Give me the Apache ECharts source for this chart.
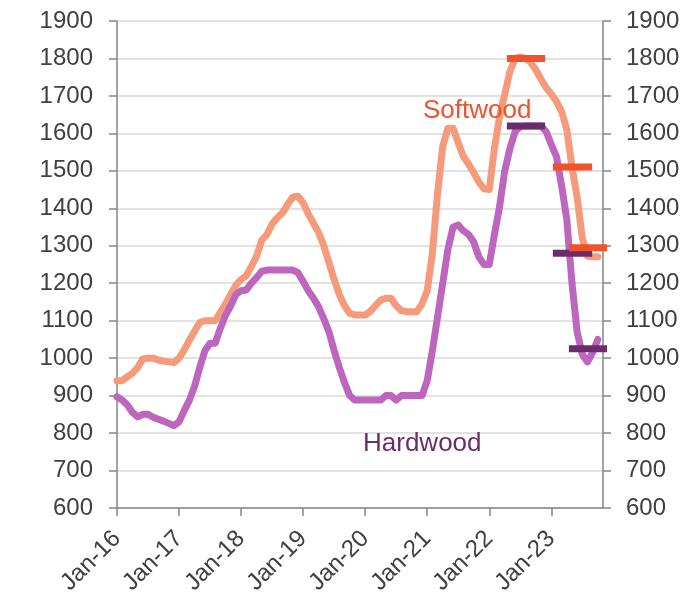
<!DOCTYPE html>
<html>
<head>
<meta charset="utf-8">
<script src="https://cdn.jsdelivr.net/npm/echarts@6/dist/echarts.min.js"></script>
<style>
html,body{margin:0;padding:0;background:#fff;}
#chart{width:687px;height:594px;}
</style>
</head>
<body>
<div id="chart"></div>
<script>
// Monthly index 0 = Jan-16 ... 93 = Oct-23
var yearTicks = ['Jan-16','Jan-17','Jan-18','Jan-19','Jan-20','Jan-21','Jan-22','Jan-23'];

var softwood = [
  940, 940, 950, 960, 975, 998, 1000, 1000, 995, 992, 990, 988,
  1000, 1022, 1048, 1072, 1095, 1100, 1100, 1100, 1122, 1145, 1170, 1195,
  1210, 1220, 1245, 1272, 1315, 1330, 1358, 1375, 1388, 1410, 1430, 1432,
  1415, 1385, 1360, 1335, 1300, 1255, 1210, 1170, 1140, 1120, 1115, 1115,
  1115, 1125, 1140, 1155, 1160, 1160, 1140, 1127, 1124, 1124, 1124, 1145,
  1180, 1280, 1440, 1565, 1614, 1614, 1575, 1538, 1518, 1495, 1470, 1452,
  1450, 1560, 1645, 1705, 1765, 1800, 1804, 1800, 1790, 1770, 1745, 1722,
  1705, 1685, 1658, 1610, 1510, 1430, 1320, 1272, 1271, 1271
];

var hardwood = [
  897, 888, 875, 855, 843, 850, 850, 842, 837, 832, 826, 820,
  830, 860, 888, 925, 975, 1020, 1040, 1040, 1080, 1115, 1140, 1170,
  1180, 1182, 1200, 1215, 1232, 1235, 1235, 1235, 1235, 1235, 1235, 1228,
  1205, 1180, 1160, 1137, 1105, 1070, 1020, 975, 935, 900, 888, 888,
  888, 888, 888, 888, 900, 900, 888, 900, 900, 900, 900, 900,
  940, 1020, 1110, 1200, 1290, 1350, 1355, 1340, 1330, 1310, 1270, 1250,
  1250, 1330, 1405, 1500, 1560, 1605, 1618, 1620, 1620, 1620, 1620, 1605,
  1570, 1538, 1460, 1370, 1200, 1070, 1010, 990, 1015, 1050
];

// Forecast bars (start/end in month index)
var forecastStart = [75.4, 84.3, 87.4];
var forecastEnd   = [82.8, 91.9, 94.8];
var softwoodForecast = [1800, 1510, 1295];
var hardwoodForecast = [1620, 1280, 1025];

function toPairs(arr){ return arr.map(function(v,i){ return [i, v]; }); }

var chart = echarts.init(document.getElementById('chart'), null, {renderer:'canvas'});

var axisLabelStyle = {fontFamily:'Liberation Sans, Arial, sans-serif', fontSize:24, color:'#404040'};

var series = [
  {type:'line', name:'Softwood', data:toPairs(softwood), showSymbol:false,
   lineStyle:{color:'#F59A7A', width:7, join:'round', cap:'round'}, z:2},
  {type:'line', name:'Hardwood', data:toPairs(hardwood), showSymbol:false,
   lineStyle:{color:'#BC66BE', width:7, join:'round', cap:'round'}, z:3}
];
forecastStart.forEach(function(s, k){
  series.push({type:'line', data:[[s, softwoodForecast[k]],[forecastEnd[k], softwoodForecast[k]]],
    showSymbol:false, clip:false, lineStyle:{color:'#F0522A', width:7, cap:'butt'}, z:5, silent:true});
  series.push({type:'line', data:[[s, hardwoodForecast[k]],[forecastEnd[k], hardwoodForecast[k]]],
    showSymbol:false, clip:false, lineStyle:{color:'#6B2C6E', width:7, cap:'butt'}, z:4, silent:true});
});

var yAxisCommon = {
  type:'value', min:600, max:1900, interval:100,
  axisLine:{show:true, lineStyle:{color:'#868686', width:1.5}},
  axisTick:{show:true, length:8, lineStyle:{color:'#868686', width:1.5}},
  splitLine:{show:true, lineStyle:{color:'#D9D9D9', width:1.5}}
};
function plain(v){ return String(v); }

chart.setOption({
  animation:false,
  backgroundColor:'#fff',
  grid:{left:117, right:84, top:21, bottom:86, containLabel:false, outerBoundsMode:'none'},
  xAxis:{
    type:'value', min:0, max:94, interval:12,
    axisLine:{show:true, onZero:false, lineStyle:{color:'#868686', width:1.5}},
    axisTick:{show:true, length:8, lineStyle:{color:'#868686', width:1.5}},
    splitLine:{show:false},
    axisLabel:Object.assign({rotate:45, margin:27, showMaxLabel:false,
      formatter:function(v){ return (v % 12 === 0) ? (yearTicks[v/12] || '') : ''; }}, axisLabelStyle)
  },
  yAxis:[
    Object.assign({position:'left', axisLabel:Object.assign({margin:24, formatter:plain}, axisLabelStyle)}, yAxisCommon),
    Object.assign({position:'right', axisLabel:Object.assign({margin:23, formatter:plain}, axisLabelStyle)}, yAxisCommon, {splitLine:{show:false}})
  ],
  graphic:[
    {type:'text', left:423, top:98, z:10, style:{text:'Softwood', fill:'#F0522A', font:'26px "Liberation Sans", Arial, sans-serif'}},
    {type:'text', left:363, top:431, z:10, style:{text:'Hardwood', fill:'#6B2C6E', font:'26px "Liberation Sans", Arial, sans-serif'}}
  ],
  series:series
});
</script>
</body>
</html>
